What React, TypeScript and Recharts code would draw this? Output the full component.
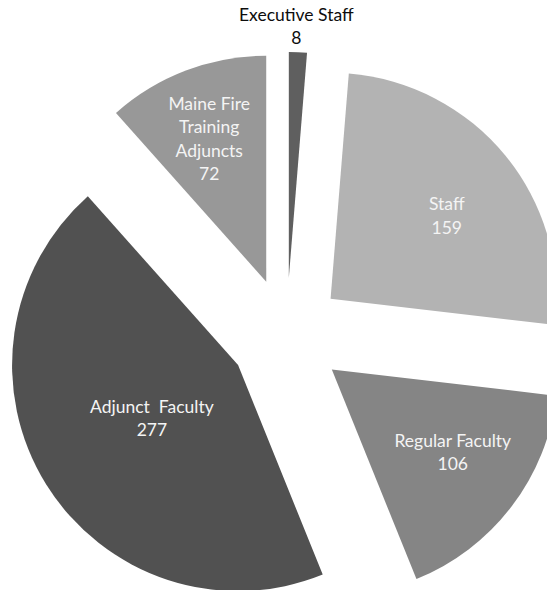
import React from 'react';
import { PieChart, Pie, Cell } from 'recharts';

// ---- data ----
const categories = [
  'Executive Staff',
  'Staff',
  'Regular Faculty',
  'Adjunct  Faculty',
  'Maine Fire\nTraining\nAdjuncts',
];
const headcounts = [8, 159, 106, 277, 72];
const sliceColors = ['#5f5f5f', '#b3b3b3', '#858585', '#515151', '#989898'];

const data = categories.map((name, i) => ({ name, value: headcounts[i] }));

// ---- layout ----
const W = 547;
const H = 590;
const CX = 286.5;
const CY = 335;
const R = 226;
const EXPLODE = 57;
const RAD = Math.PI / 180;
const FONT = 'Lato, "Open Sans", sans-serif';
const FONT_SIZE = 17.5;
const LINE_H = 23.5;

// label placement: radius as fraction of R, angle tweak in degrees (clockwise), colour
const labelPlacement = [
  { r: 1.114, da: -0.6, color: '#0d0d0d' },
  { r: 0.632, da: 3.8, color: '#f4f4f4' },
  { r: 0.648, da: -3.0, color: '#f4f4f4' },
  { r: 0.448, da: 0.2, color: '#f4f4f4' },
  { r: 0.681, da: -0.9, color: '#f4f4f4' },
];

const total = headcounts.reduce((a, b) => a + b, 0);
const clockMid = headcounts.map(
  (v, i) => ((headcounts.slice(0, i).reduce((a, b) => a + b, 0) + v / 2) / total) * 360
);
const offsets = clockMid.map((a) => ({
  dx: EXPLODE * Math.sin(a * RAD),
  dy: -EXPLODE * Math.cos(a * RAD),
}));

const renderLabel = (props: any) => {
  const { cx, cy, midAngle, outerRadius, index, name, value } = props;
  const place = labelPlacement[index];
  const off = offsets[index];
  const a = (90 - midAngle + place.da) * RAD;
  const x = cx + off.dx + place.r * outerRadius * Math.sin(a);
  const yc = cy + off.dy - place.r * outerRadius * Math.cos(a);
  const lines = [...String(name).split('\n'), String(value)];
  const first = yc - ((lines.length - 1) / 2) * LINE_H;
  return (
    <text
      key={`lbl-${index}`}
      textAnchor="middle"
      fill={place.color}
      fontFamily={FONT}
      fontSize={FONT_SIZE}
      style={{ whiteSpace: 'pre' }}
    >
      {lines.map((l, k) => (
        <tspan key={k} x={x} y={first + k * LINE_H + FONT_SIZE * 0.35}>
          {l}
        </tspan>
      ))}
    </text>
  );
};

export default function App() {
  return (
    <div
      style={{
        position: 'absolute',
        left: 0,
        top: 0,
        width: W,
        height: H,
        overflow: 'hidden',
        background: '#ffffff',
      }}
    >
      <PieChart width={W} height={H} margin={{ top: 0, right: 0, bottom: 0, left: 0 }}>
        <Pie
          data={data}
          dataKey="value"
          nameKey="name"
          cx={CX}
          cy={CY}
          outerRadius={R}
          startAngle={90}
          endAngle={-270}
          stroke="none"
          label={renderLabel}
          labelLine={false}
          isAnimationActive={false}
        >
          {data.map((d, i) => (
            <Cell
              key={d.name}
              fill={sliceColors[i]}
              transform={`translate(${offsets[i].dx}, ${offsets[i].dy})`}
            />
          ))}
        </Pie>
      </PieChart>
    </div>
  );
}
